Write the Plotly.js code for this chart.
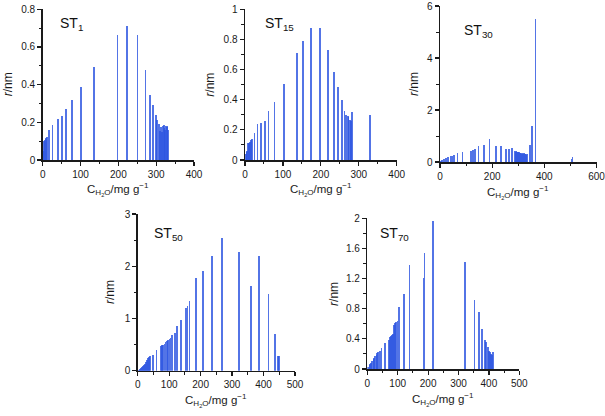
<!DOCTYPE html>
<html>
<head>
<meta charset="utf-8">
<script src="https://cdn.plot.ly/plotly-3.0.1.min.js"></script>
<style>html,body{margin:0;padding:0;background:#fff;}#chart{width:605px;height:416px;}</style>
</head>
<body>
<div id="chart"></div>
<script>
// ---- Data ----
const panelNames = ["ST<sub>1</sub>", "ST<sub>15</sub>", "ST<sub>30</sub>", "ST<sub>50</sub>", "ST<sub>70</sub>"];

const st1_x = [1, 3, 5, 7, 9, 11, 17, 26, 40, 51, 62, 78, 101, 136, 198, 222, 251, 272, 284, 292, 299, 303, 307, 310, 313, 316, 318, 320, 322, 324, 326, 328, 330, 332];
const st1_r = [0.05, 0.1, 0.105, 0.11, 0.115, 0.12, 0.16, 0.185, 0.217, 0.236, 0.27, 0.317, 0.388, 0.494, 0.661, 0.714, 0.663, 0.48, 0.346, 0.291, 0.238, 0.212, 0.19, 0.155, 0.175, 0.15, 0.18, 0.185, 0.17, 0.16, 0.18, 0.175, 0.18, 0.16];

const st15_x = [2, 4, 6, 8, 11, 13, 15, 18, 25, 33, 42, 52, 62, 78, 102, 138, 153, 174, 198, 219, 234, 245, 256, 262, 267, 271, 273, 276, 279, 282, 330];
const st15_r = [0.04, 0.05, 0.06, 0.11, 0.115, 0.12, 0.13, 0.14, 0.18, 0.237, 0.243, 0.259, 0.323, 0.385, 0.504, 0.708, 0.79, 0.876, 0.878, 0.728, 0.586, 0.482, 0.398, 0.325, 0.299, 0.292, 0.285, 0.265, 0.259, 0.32, 0.299];

const st30_x = [3, 8, 13, 18, 23, 28, 33, 40, 46, 54, 67, 87, 118, 126, 135, 147, 168, 190, 215, 233, 253, 264, 277, 287, 290, 293, 296, 299, 302, 305, 308, 311, 314, 317, 320, 323, 326, 329, 332, 335, 345, 352, 366, 504, 508];
const st30_r = [0.05, 0.08, 0.1, 0.13, 0.15, 0.18, 0.2, 0.22, 0.24, 0.27, 0.33, 0.4, 0.44, 0.46, 0.5, 0.62, 0.67, 0.87, 0.63, 0.63, 0.5, 0.5, 0.53, 0.42, 0.4, 0.41, 0.4, 0.38, 0.38, 0.35, 0.36, 0.33, 0.3, 0.34, 0.31, 0.33, 0.3, 0.32, 0.28, 0.3, 0.65, 1.38, 5.5, 0.12, 0.2];

const st50_x = [4, 7, 11, 14, 17, 20, 23, 27, 30, 33, 36, 40, 48, 60, 74, 77, 81, 85, 88, 92, 96, 101, 104, 110, 118, 126, 138, 153, 158, 165, 186, 208, 237, 269, 323, 361, 386, 416, 436, 445, 449];
const st50_r = [0.02, 0.04, 0.05, 0.07, 0.09, 0.11, 0.12, 0.16, 0.2, 0.25, 0.27, 0.28, 0.31, 0.4, 0.47, 0.485, 0.5, 0.52, 0.54, 0.57, 0.59, 0.61, 0.625, 0.68, 0.73, 0.855, 0.97, 1.2, 1.23, 1.33, 1.77, 1.9, 2.2, 2.55, 2.27, 1.62, 2.2, 1.46, 0.71, 0.28, 0.29];

const st70_x = [3, 7, 10, 13, 16, 20, 23, 26, 30, 33, 36, 41, 47, 58, 71, 75, 78, 81, 84, 88, 91, 94, 99, 105, 120, 139, 185, 188, 216, 322, 353, 367, 378, 388, 391, 396, 400, 404, 407, 410, 414];
const st70_r = [0.03, 0.05, 0.07, 0.08, 0.1, 0.13, 0.15, 0.17, 0.19, 0.21, 0.225, 0.24, 0.28, 0.345, 0.39, 0.42, 0.44, 0.455, 0.47, 0.58, 0.615, 0.63, 0.635, 0.82, 1.0, 1.385, 1.21, 1.535, 1.97, 1.425, 0.916, 0.757, 0.527, 0.385, 0.36, 0.29, 0.235, 0.22, 0.2, 0.18, 0.225];

// ---- Layout geometry (pixels) ----
const W = 605, H = 416;
const panels = [
  {x: st1_x,  y: st1_r,  px:[42.7,194], py:[160,9.3], xr:[0,400], yr:[0,0.8], xd:100, xm:50, yd:0.2, ym:0.1, bw:4.5, name:panelNames[0], nx:58, ny:24, tx:35},
  {x: st15_x, y: st15_r, px:[245,396.7], py:[160,9.3], xr:[0,400], yr:[0,1], xd:100, xm:50, yd:0.2, ym:0.1, bw:4.5, name:panelNames[1], nx:263, ny:24, tx:35},
  {x: st30_x, y: st30_r, px:[440,596.5], py:[162,6], xr:[0,600], yr:[0,6], xd:200, xm:100, yd:2, ym:1, bw:6, name:panelNames[2], nx:462, ny:31, tx:26},
  {x: st50_x, y: st50_r, px:[137.7,295], py:[370.7,214], xr:[0,500], yr:[0,3], xd:100, xm:50, yd:1, ym:0.5, bw:5.5, name:panelNames[3], nx:152, ny:234, tx:27},
  {x: st70_x, y: st70_r, px:[367.3,519.3], py:[369,218.3], xr:[0,500], yr:[0,2], xd:100, xm:50, yd:0.4, ym:0.2, bw:5.5, name:panelNames[4], nx:378, ny:234, tx:34}
];

const tickFont = {family: "Liberation Sans, Arial, sans-serif", size: 10, color: "#1a1a1a"};
const titleFont = {family: "Liberation Sans, Arial, sans-serif", size: 12, color: "#1a1a1a"};
const xTitleFont = {family: "Liberation Sans, Arial, sans-serif", size: 11.5, color: "#1a1a1a"};

const data = [];
const layout = {
  width: W, height: H,
  margin: {l:0, r:0, t:0, b:0},
  paper_bgcolor: "#fff", plot_bgcolor: "#fff",
  showlegend: false,
  bargap: 0,
  annotations: []
};

panels.forEach((p, i) => {
  const n = i + 1;
  const xa = n === 1 ? "x" : "x" + n;
  const ya = n === 1 ? "y" : "y" + n;
  data.push({
    type: "bar", x: p.x, y: p.y, xaxis: xa, yaxis: ya,
    width: p.x.map(() => p.bw),
    marker: {color: "rgba(45,85,225,0.82)", line: {width: 0}},
    hoverinfo: "x+y"
  });
  const axCommon = {
    showline: true, linecolor: "#1a1a1a", linewidth: 1.5,
    ticks: "outside", ticklen: 4, tickwidth: 1.2, tickcolor: "#1a1a1a",
    showgrid: false, zeroline: false, tickfont: tickFont,
    ticklabeloverflow: "allow",
    fixedrange: true
  };
  layout["xaxis" + (n === 1 ? "" : n)] = Object.assign({}, axCommon, {
    domain: [p.px[0] / W, p.px[1] / W],
    range: p.xr, dtick: p.xd, tick0: 0, anchor: ya,
    minor: {dtick: p.xm, ticks: "outside", ticklen: 2.5, tickwidth: 1, tickcolor: "#1a1a1a"}
  });
  layout["yaxis" + (n === 1 ? "" : n)] = Object.assign({}, axCommon, {
    domain: [1 - p.py[0] / H, 1 - p.py[1] / H],
    range: p.yr, dtick: p.yd, tick0: 0, anchor: xa,
    minor: {dtick: p.ym, ticks: "outside", ticklen: 2.5, tickwidth: 1, tickcolor: "#1a1a1a"}
  });
  // panel label
  layout.annotations.push({
    xref: "paper", yref: "paper", x: p.nx / W, y: 1 - p.ny / H,
    xanchor: "left", yanchor: "middle", showarrow: false,
    text: p.name, font: {family: "Liberation Sans, Arial, sans-serif", size: 14, color: "#111"}
  });
  // y title
  layout.annotations.push({
    xref: "paper", yref: "paper",
    x: (p.px[0] - p.tx) / W,
    y: 1 - ((p.py[0] + p.py[1]) / 2) / H,
    xanchor: "center", yanchor: "middle", textangle: -90, showarrow: false,
    text: "<i>r</i>/nm", font: titleFont
  });
  // x title
  layout.annotations.push({
    xref: "paper", yref: "paper",
    x: ((p.px[0] + p.px[1]) / 2) / W,
    y: 1 - (p.py[0] + 30) / H,
    xanchor: "center", yanchor: "middle", showarrow: false,
    text: "C<sub>H<sub>2</sub>O</sub>/mg g<sup>−1</sup>", font: xTitleFont
  });
});

Plotly.newPlot("chart", data, layout, {displayModeBar: false, staticPlot: true});
</script>
</body>
</html>
